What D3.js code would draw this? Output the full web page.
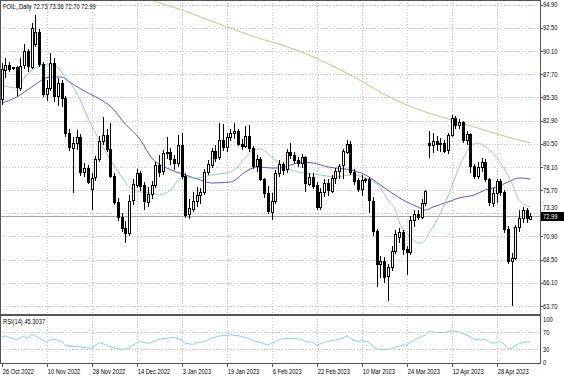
<!DOCTYPE html>
<html>
<head>
<meta charset="utf-8">
<script src="https://cdn.jsdelivr.net/npm/d3@7/dist/d3.min.js"></script>
<style>
  body { margin: 0; background: #ffffff; }
  svg { display: block; font-family: "Liberation Sans", Arial, sans-serif; }
</style>
</head>
<body>
<svg id="chart"></svg>
<script>
// daily candles, one value per bar (bar 0 = 26 Oct 2022)
const openPrices = [
  85.1, 88.2, 88.7, 88.3, 88.4, 86.3, 88.6, 90.1, 88.5, 90.9,
  92.1, 88.8, 85.7, 86.3, 88.9, 85.5, 86.8, 85.2, 81.6, 80.1,
  80.6, 81.2, 77.6, 78.0, 75.9, 77.0, 78.9, 80.8, 81.4, 80.0,
  77.2, 74.5, 72.9, 71.8, 71.3, 74.6, 76.3, 77.5, 76.2, 74.5,
  75.3, 76.2, 78.3, 77.6, 79.5, 79.6, 78.9, 78.5, 80.4, 77.2,
  73.2, 73.8, 74.6, 75.2, 75.5, 77.6, 78.4, 79.8, 79.1, 80.9,
  80.2, 81.2, 81.6, 81.8, 80.5, 80.3, 81.3, 80.1, 78.2, 78.9,
  76.8, 75.4, 73.5, 74.6, 77.5, 78.4, 77.8, 79.6, 79.3, 78.8,
  78.5, 79.1, 76.4, 77.1, 76.2, 73.9, 75.5, 76.4, 75.7, 77.0,
  77.7, 78.2, 79.7, 80.5, 77.6, 76.7, 75.8, 76.7, 76.8, 74.6,
  71.5, 68.1, 68.4, 66.8, 67.7, 69.4, 70.9, 71.4, 69.6, 69.3,
  72.6, 73.2, 72.9, 74.4, 80.6, 80.4, 80.8, 80.5, 80.6, 79.8,
  81.4, 83.2, 82.5, 82.8, 80.9, 81.5, 78.2, 77.2, 78.1, 78.6,
  76.8, 74.4, 75.4, 76.6, 75.5, 71.7, 68.4, 68.7, 71.9, 72.8,
  73.6, 72.73
]
const highPrices = [
  88.9, 89.4, 89.0, 88.5, 88.6, 89.4, 90.8, 90.3, 93.0, 93.8,
  92.4, 89.0, 87.1, 89.9, 89.4, 87.3, 87.1, 85.4, 82.0, 81.2,
  81.9, 81.5, 78.5, 78.3, 77.5, 79.2, 81.3, 83.3, 82.0, 82.7,
  77.5, 74.9, 73.3, 72.5, 75.2, 76.8, 77.9, 77.7, 76.5, 76.0,
  76.6, 78.6, 79.3, 79.9, 81.2, 80.1, 79.3, 81.4, 81.6, 77.5,
  74.8, 75.5, 76.0, 75.9, 77.9, 78.8, 80.1, 80.4, 82.6, 82.5,
  81.6, 82.0, 82.6, 82.0, 81.0, 82.3, 82.4, 80.3, 79.3, 79.1,
  77.0, 76.1, 75.4, 77.8, 78.8, 78.6, 80.0, 80.6, 79.6, 79.1,
  79.4, 79.2, 77.5, 77.5, 76.5, 75.9, 76.8, 76.9, 77.3, 78.0,
  78.4, 80.0, 80.9, 80.8, 77.9, 77.0, 77.3, 77.0, 77.1, 75.0,
  71.7, 68.9, 68.8, 68.0, 69.9, 71.6, 71.8, 71.6, 69.9, 73.0,
  73.6, 73.6, 74.8, 75.7, 81.8, 81.6, 81.3, 81.1, 80.9, 81.6,
  83.5, 83.4, 83.1, 82.9, 81.8, 81.6, 78.4, 78.6, 79.0, 78.9,
  77.0, 75.9, 76.9, 76.8, 75.7, 72.0, 69.2, 72.1, 73.6, 74.0,
  73.8, 73.36
]
const lowPrices = [
  84.5, 87.3, 87.9, 88.1, 85.4, 86.0, 88.2, 87.9, 88.2, 90.5,
  88.4, 85.3, 84.9, 86.0, 84.8, 84.4, 84.3, 81.2, 79.8, 75.4,
  79.9, 77.2, 77.1, 76.3, 73.6, 76.6, 78.6, 80.4, 79.6, 77.0,
  74.2, 72.5, 71.4, 70.2, 71.0, 74.2, 75.9, 75.6, 73.6, 74.0,
  74.8, 75.9, 77.1, 77.3, 78.9, 78.3, 77.8, 78.1, 76.9, 72.8,
  72.7, 73.4, 73.9, 74.3, 75.2, 77.3, 78.0, 78.6, 78.8, 79.7,
  79.6, 80.8, 81.0, 80.3, 79.9, 80.1, 79.6, 77.9, 77.6, 76.6,
  74.9, 73.2, 72.6, 74.3, 77.1, 77.3, 77.5, 78.9, 78.4, 78.1,
  78.0, 75.5, 76.1, 75.8, 73.6, 73.6, 75.0, 75.1, 75.4, 76.3,
  76.8, 76.9, 79.4, 77.3, 76.2, 75.5, 75.1, 76.4, 73.3, 70.9,
  65.7, 66.6, 66.1, 64.2, 67.3, 69.1, 70.2, 69.0, 66.9, 69.0,
  71.9, 72.6, 72.7, 74.1, 79.0, 79.5, 79.7, 79.6, 79.5, 79.4,
  81.2, 82.0, 82.0, 80.6, 80.4, 77.5, 76.8, 76.9, 77.6, 76.5,
  74.1, 73.9, 74.4, 75.1, 71.3, 68.0, 63.7, 68.5, 71.4, 72.3,
  72.3, 72.70
]
const closePrices = [
  88.2, 88.7, 88.3, 88.4, 86.3, 88.6, 90.1, 88.5, 92.5, 92.1,
  88.8, 85.7, 86.3, 88.9, 85.5, 86.8, 85.2, 81.6, 80.1, 80.6,
  81.2, 77.6, 78.0, 76.5, 77.0, 78.9, 80.8, 81.4, 80.0, 77.2,
  74.5, 72.9, 71.8, 71.3, 74.6, 76.3, 77.5, 76.2, 74.5, 75.3,
  76.2, 78.3, 77.6, 79.5, 79.6, 78.9, 78.5, 80.4, 77.2, 73.2,
  73.8, 74.6, 75.2, 75.5, 77.6, 78.4, 79.8, 79.1, 80.9, 80.2,
  81.2, 81.6, 81.8, 80.5, 80.3, 81.3, 80.1, 78.2, 78.9, 76.8,
  75.4, 73.5, 74.6, 77.5, 78.4, 77.8, 79.6, 79.3, 78.8, 78.5,
  79.1, 76.4, 77.1, 76.2, 73.9, 75.5, 76.4, 75.7, 77.0, 77.7,
  78.2, 79.7, 80.5, 77.6, 76.7, 75.8, 76.7, 76.8, 74.6, 71.5,
  68.1, 68.4, 66.7, 67.7, 69.4, 71.2, 71.4, 69.6, 69.3, 72.6,
  73.2, 72.9, 74.4, 75.6, 80.4, 80.8, 80.5, 80.6, 79.8, 81.4,
  83.2, 82.5, 82.8, 80.9, 81.5, 78.2, 77.2, 78.1, 78.6, 76.8,
  74.4, 75.4, 76.6, 75.5, 71.7, 68.4, 68.7, 71.9, 72.8, 73.6,
  72.73, 72.99
]

// moving averages (bar index -> price)
const maFastBars = [0, 4, 6, 9, 11, 14, 15, 17, 19, 21, 23, 26, 29, 32, 34, 37, 40, 42, 45, 48, 52, 56, 61, 65, 67, 69, 72, 74, 78, 81, 85, 89, 93, 97, 101, 103, 105, 106, 108, 111, 112, 114, 117, 120, 122, 125, 127, 129, 133, 136, 138, 141]
const maFastValues = [86.59, 86.28, 87.31, 88.35, 88.66, 88.66, 88.35, 87.41, 86.38, 85.03, 83.17, 80.89, 78.82, 77.06, 76.03, 75.51, 75.41, 75.2, 75.72, 76.96, 76.96, 77.27, 77.58, 79.03, 79.86, 79.96, 79.13, 78.51, 77.68, 77.47, 77.27, 77.06, 77.27, 76.96, 75.92, 74.68, 73.64, 72.4, 71.26, 70.22, 70.22, 71.26, 73.33, 76.03, 78.1, 80.17, 80.58, 80.17, 78.51, 76.44, 74.68, 73.96]
const maSlowBars = [0, 4, 8, 13, 16, 18, 23, 27, 30, 32, 37, 40, 44, 49, 53, 56, 61, 65, 68, 72, 74, 77, 80, 83, 87, 93, 97, 101, 104, 108, 111, 113, 115, 119, 122, 126, 129, 132, 135, 138, 141]
const maSlowValues = [84.72, 85.34, 86.38, 87.41, 87.41, 86.9, 85.76, 84.93, 84.0, 82.97, 80.89, 79.03, 77.99, 77.27, 76.75, 76.44, 76.54, 77.58, 78.1, 77.99, 77.99, 78.3, 78.61, 78.51, 78.1, 77.79, 77.27, 76.23, 75.41, 74.47, 73.95, 73.64, 73.95, 74.47, 74.89, 75.2, 75.72, 76.03, 76.54, 76.96, 76.85]
const ma200Bars = [37, 40, 48, 53, 66, 80, 93, 105, 113, 120, 127, 133, 141]
const ma200Values = [95.9, 95.39, 94.35, 93.63, 91.76, 90.0, 87.62, 85.03, 83.79, 82.96, 82.13, 81.41, 80.58]

// RSI(14)
const rsiBars = [0, 1, 2, 4, 5, 6, 7, 8, 9, 11, 12, 13, 14, 16, 17, 19, 20, 22, 24, 25, 26, 28, 30, 32, 34, 36, 37, 39, 40, 42, 44, 46, 48, 49, 51, 52, 54, 56, 58, 61, 63, 64, 66, 67, 69, 71, 72, 73, 74, 77, 80, 81, 83, 84, 86, 88, 89, 91, 92, 93, 95, 96, 98, 99, 101, 103, 104, 106, 107, 108, 110, 111, 113, 114, 116, 118, 119, 120, 122, 124, 126, 128, 129, 130, 131, 133, 134, 135, 136, 138, 139, 140, 141]
const rsiValues = [58.8, 60.5, 57.4, 51.2, 57.4, 58.8, 55.1, 65.1, 60.5, 51.2, 45.8, 51.2, 52.8, 47.2, 39.5, 35.6, 37.2, 33.3, 31.9, 39.5, 44.9, 39.5, 31.9, 29.5, 31.9, 44.9, 47.2, 43.5, 45.8, 52.8, 55.1, 57.4, 51.2, 43.5, 41.2, 44.9, 47.2, 55.1, 60.5, 62.8, 61.2, 58.8, 55.1, 49.5, 45.8, 39.5, 44.0, 47.2, 52.8, 55.1, 52.8, 47.2, 45.8, 39.5, 45.8, 49.5, 51.2, 55.1, 61.2, 55.1, 47.2, 49.5, 47.2, 35.6, 27.9, 29.5, 31.9, 37.2, 39.5, 39.5, 51.2, 55.1, 62.8, 70.5, 69.1, 68.1, 70.5, 72.8, 69.1, 62.8, 52.8, 51.2, 52.8, 47.2, 43.5, 47.2, 41.9, 31.9, 31.9, 43.5, 44.9, 47.2, 45.8]

// axis labels
const priceTicks = [94.90, 92.50, 90.10, 87.70, 85.30, 82.90, 80.50, 78.10, 75.70, 73.30, 70.90, 68.50, 66.10, 63.70]
const rsiTicks = [100, 70, 30, 0]
const rsiLevels = [70, 30]
const dateLabels = ["26 Oct 2022", "10 Nov 2022", "28 Nov 2022", "14 Dec 2022", "3 Jan 2023", "19 Jan 2023", "6 Feb 2023", "22 Feb 2023", "10 Mar 2023", "24 Mar 2023", "12 Apr 2023", "28 Apr 2023"]
const dateBars = [0, 12, 24, 36, 48, 60, 72, 84, 96, 108, 120, 132]
const titleText = "FOIL,,Daily  72.73 73.36 72.70 72.99"
const rsiTitle = "RSI(14) 45.3037"
const lastPrice = 72.99

const dims = {
  width: 564,
  height: 376,
  plotRight: 540,
  mainBottom: 315,
  rsiTop: 316,
  rsiBottom: 363
}

const svg = d3.select("#chart")
  .attr("width", dims.width)
  .attr("height", dims.height)

// bar index -> x, price -> y
const xScale = d3.scaleLinear()
  .domain([0, closePrices.length - 1])
  .range([1.7, 1.7 + 3.75 * (closePrices.length - 1)])
const yScale = d3.scaleLinear().domain([63.7, 94.9]).range([306, 4.7])
const rsiScale = d3.scaleLinear().domain([0, 100]).range([362, 319])

const crisp = (v) => Math.round(v) + 0.5

// small squeezed text like the terminal font
const label = (g, x, y, str, fill = "#000") =>
  g.append("text")
    .attr("transform", `translate(${x},${y}) scale(0.8,1)`)
    .attr("font-size", 7.2)
    .attr("fill", fill)
    .text(str)

// clip areas for each panel
const defs = svg.append("defs")
defs.append("clipPath").attr("id", "clipMain")
  .append("rect").attr("x", 0).attr("y", 0)
  .attr("width", dims.plotRight).attr("height", dims.mainBottom)
defs.append("clipPath").attr("id", "clipRsi")
  .append("rect").attr("x", 0).attr("y", dims.rsiTop)
  .attr("width", dims.plotRight).attr("height", dims.rsiBottom - dims.rsiTop)

// dotted grid
const grid = svg.append("g")
  .attr("stroke", "#c4c4c4")
  .attr("stroke-width", 1)
  .attr("stroke-dasharray", "1,2")
grid.selectAll(".hGrid")
  .data(priceTicks)
  .join("line")
  .attr("x1", 0).attr("x2", dims.plotRight)
  .attr("y1", (d) => crisp(yScale(d))).attr("y2", (d) => crisp(yScale(d)))
grid.selectAll(".vGrid")
  .data(dateBars.slice(1))
  .join("line")
  .attr("x1", (d) => crisp(xScale(d))).attr("x2", (d) => crisp(xScale(d)))
  .attr("y1", 0).attr("y2", dims.rsiBottom)
grid.selectAll(".rGrid")
  .data(rsiLevels)
  .join("line")
  .attr("x1", 0).attr("x2", dims.plotRight)
  .attr("y1", (d) => crisp(rsiScale(d))).attr("y2", (d) => crisp(rsiScale(d)))

const main = svg.append("g").attr("clip-path", "url(#clipMain)")

// current price line
main.append("line")
  .attr("x1", 0).attr("x2", dims.plotRight)
  .attr("y1", crisp(yScale(lastPrice))).attr("y2", crisp(yScale(lastPrice)))
  .attr("stroke", "#a8a8a8")

// moving averages
const maLine = (bars, values) =>
  d3.line()
    .x((d, i) => xScale(bars[i]))
    .y((d) => yScale(d))
    .curve(d3.curveMonotoneX)(values)

main.append("path").attr("d", maLine(ma200Bars, ma200Values))
  .attr("fill", "none").attr("stroke", "#d9b98c").attr("stroke-width", 1)
main.append("path").attr("d", maLine(maSlowBars, maSlowValues))
  .attr("fill", "none").attr("stroke", "#5b55c9").attr("stroke-width", 1)
main.append("path").attr("d", maLine(maFastBars, maFastValues))
  .attr("fill", "none").attr("stroke", "#8fd3b6").attr("stroke-width", 1)

// candles
const bars = d3.range(closePrices.length)
main.selectAll(".wick")
  .data(bars)
  .join("line")
  .attr("class", "wick")
  .attr("x1", (i) => crisp(xScale(i))).attr("x2", (i) => crisp(xScale(i)))
  .attr("y1", (i) => Math.round(yScale(highPrices[i])))
  .attr("y2", (i) => Math.round(yScale(lowPrices[i])))
  .attr("stroke", "#000")
main.selectAll(".body")
  .data(bars)
  .join("rect")
  .attr("class", "body")
  .attr("x", (i) => crisp(xScale(i)) - 1)
  .attr("width", 2)
  .attr("y", (i) => crisp(yScale(Math.max(openPrices[i], closePrices[i]))))
  .attr("height", (i) => Math.max(1, Math.round(Math.abs(yScale(openPrices[i]) - yScale(closePrices[i])))))
  .attr("fill", (i) => (closePrices[i] >= openPrices[i] ? "#fff" : "#000"))
  .attr("stroke", "#000")

// RSI panel
svg.append("g").attr("clip-path", "url(#clipRsi)")
  .append("path")
  .attr("d", d3.line()
    .x((d, i) => xScale(rsiBars[i]))
    .y((d) => rsiScale(d))(rsiValues))
  .attr("fill", "none")
  .attr("stroke", "#8ccdf5")
  .attr("stroke-width", 1)

// frame and separators
const frame = svg.append("g").attr("stroke", "#555").attr("fill", "none")
frame.append("rect").attr("x", 0.5).attr("y", 0.5)
  .attr("width", dims.plotRight).attr("height", dims.rsiBottom)
frame.append("line").attr("x1", 0).attr("x2", dims.plotRight + 0.5)
  .attr("y1", dims.mainBottom).attr("y2", dims.mainBottom).attr("stroke-width", 2)

// right price axis
const axisR = svg.append("g")
axisR.selectAll(".pTick")
  .data(priceTicks)
  .join("line")
  .attr("x1", dims.plotRight + 0.5).attr("x2", dims.plotRight + 3)
  .attr("y1", (d) => crisp(yScale(d))).attr("y2", (d) => crisp(yScale(d)))
  .attr("stroke", "#555")

// last price tag position; a tick label that would sit under it is lifted above it
const tagTop = Math.round(yScale(lastPrice)) - 4
priceTicks.forEach((t) => {
  const ty = yScale(t) + 2.6
  const clash = ty > tagTop - 1 && ty - 6 < tagTop + 10
  label(axisR, dims.plotRight + 3, clash ? tagTop - 2.2 : ty, t.toFixed(2))
})

axisR.append("rect")
  .attr("x", dims.plotRight + 1).attr("y", tagTop)
  .attr("width", dims.width - dims.plotRight - 1).attr("height", 9)
  .attr("fill", "#000")
label(axisR, dims.plotRight + 3, tagTop + 7, lastPrice.toFixed(2), "#fff")

// RSI axis
rsiTicks.forEach((t) => label(axisR, dims.plotRight + 3, rsiScale(t) + 2.6, String(t)))

// date axis
const axisB = svg.append("g")
axisB.selectAll(".dTick")
  .data(dateBars)
  .join("line")
  .attr("x1", (d) => crisp(xScale(d))).attr("x2", (d) => crisp(xScale(d)))
  .attr("y1", dims.rsiBottom).attr("y2", dims.rsiBottom + 4)
  .attr("stroke", "#555")
dateLabels.forEach((t, k) => label(axisB, xScale(dateBars[k]) + 1, 374, t))

// titles
label(svg, 3, 9, titleText)
label(svg, 3, 324, rsiTitle)
</script>
</body>
</html>
